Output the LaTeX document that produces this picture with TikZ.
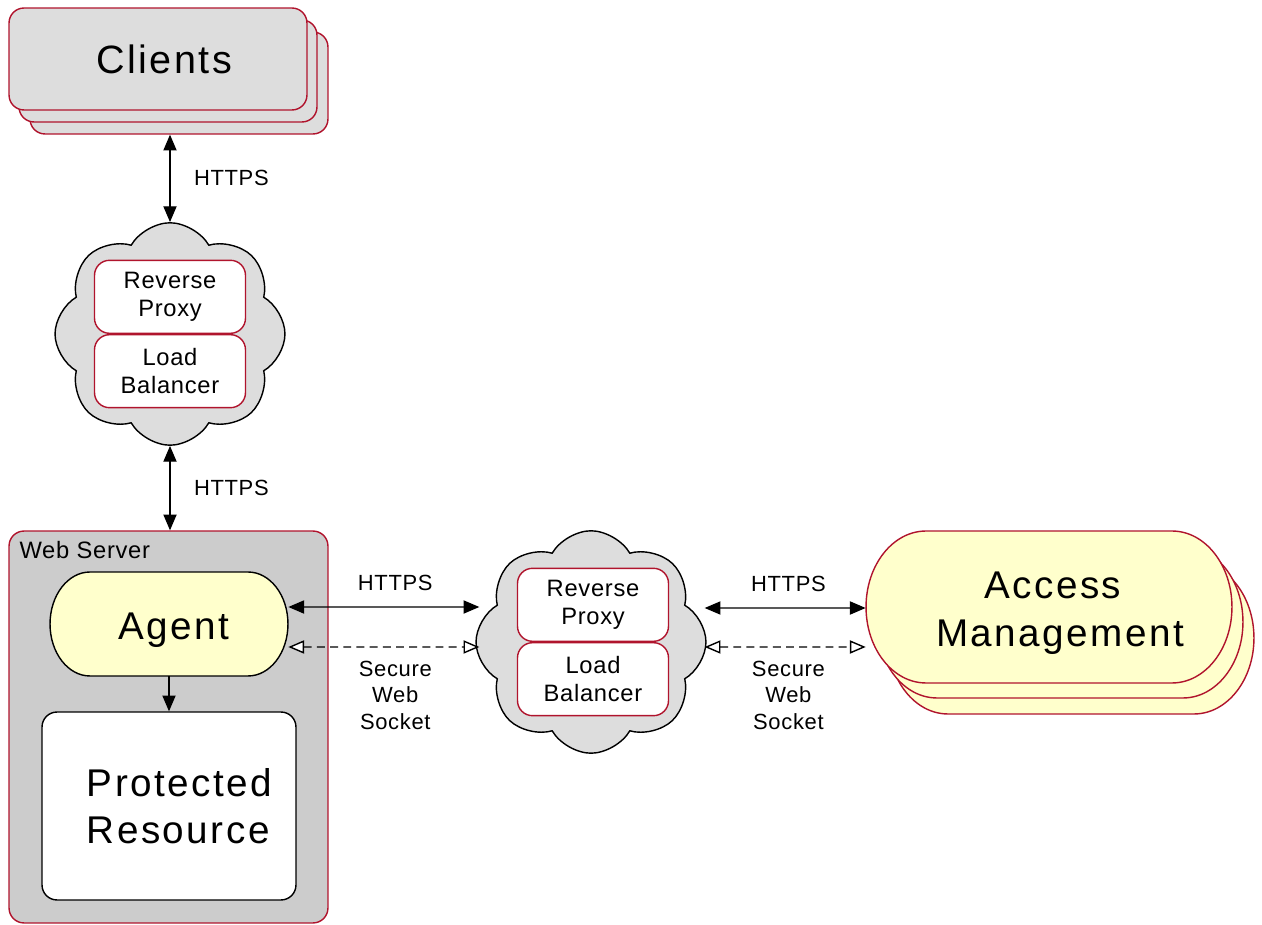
\documentclass[tikz,border=0pt]{standalone}
\usepackage{fontspec}
\setmainfont{Liberation Sans}[LetterSpace=3]
\newfontfamily\bigfont{Liberation Sans}[LetterSpace=6.5]
\usetikzlibrary{shapes, arrows.meta, positioning}
\definecolor{mred}{RGB}{176,20,45}
\definecolor{boxgray}{RGB}{221,221,221}
\definecolor{servergray}{RGB}{204,204,204}
\definecolor{pillyellow}{RGB}{255,255,204}

\tikzset{
    agentshape/.pic={
        \path[pic actions] (-1.58cm,1.04cm) -- (1.58cm,1.04cm)
            arc[start angle=90, end angle=-90, x radius=0.8cm, y radius=1.04cm]
            -- (-1.58cm,-1.04cm)
            arc[start angle=270, end angle=90, x radius=0.8cm, y radius=1.04cm] -- cycle;
    },
    amshape/.pic={
        \path[pic actions] (-2.46cm,1.52cm) -- (2.46cm,1.52cm)
            arc[start angle=90, end angle=-90, x radius=1.2cm, y radius=1.52cm]
            -- (-2.46cm,-1.52cm)
            arc[start angle=270, end angle=90, x radius=1.2cm, y radius=1.52cm] -- cycle;
    }
}

\begin{document}
\begin{tikzpicture}[x=0.02cm, y=-0.02cm,
    big/.style={font=\bigfont\fontsize{22}{27}\selectfont},
    box/.style={draw=mred, line width=0.8pt, rounded corners=0.3cm, align=center},
    stack/.style={box, fill=boxgray, minimum width=5.96cm, minimum height=2.04cm},
    inner/.style={box, fill=white, minimum width=3.02cm, minimum height=1.46cm,
        font=\fontsize{13.5}{16}\selectfont},
    cloudnode/.style={cloud, cloud puffs=8, cloud puff arc=120, aspect=1, draw,
        line width=0.8pt, fill=boxgray, minimum width=4.6cm, minimum height=4.45cm},
    pillline/.style={line width=0.8pt, fill=pillyellow},
    link/.style={line width=0.8pt, {Triangle[length=9pt, width=7.5pt]}-{Triangle[length=9pt, width=7.5pt]}},
    wslink/.style={line width=0.8pt, dash pattern=on 4.5pt off 3pt,
        {Triangle[open, fill=white, length=9pt, width=7.5pt]}-{Triangle[open, fill=white, length=9pt, width=7.5pt]}},
    edge label/.style={font=\fontsize{12.5}{15}\selectfont, align=center}]

\useasboundingbox (0,0) rectangle (1262,925);

% Clients stack
\node[stack] (clients3) at (179,83) {};
\node[stack] (clients2) at (168,71) {};
\node[stack, font=\bigfont\fontsize{22.5}{27}\selectfont] (clients) at (158,59) {\hspace*{0.25cm}Clients};

% Upper cloud
\node[cloudnode] (cloud1) at (170,334) {};
\node[inner, above=0pt of cloud1.center] (proxy1) {Reverse\\Proxy};
\node[inner, below=0pt of proxy1] (balancer1) {Load\\Balancer};

% Web server
\node[box, fill=servergray, minimum width=6.38cm, minimum height=7.84cm] (server) at (168.5,727) {};
\node[edge label, font=\fontsize{13.5}{16}\selectfont, below right=0.1cm and 0.1cm of server.north west, anchor=north west] (serverlabel) {Web Server};
\pic[draw, pillline] at (169,624) {agentshape};
\node[big, minimum width=4.76cm, minimum height=2.08cm] (agent) at (169,630) {\hspace*{0.2cm}Agent};
\node[draw, fill=white, line width=0.8pt, rounded corners=0.3cm, align=left, big,
    minimum width=5.08cm, minimum height=3.76cm] (resource) at (169,806)
    {\hspace*{0.42cm}Protected\\\hspace*{0.42cm}Resource};

% Lower cloud
\node[cloudnode] (cloud2) at (591,642) {};
\node[inner, above=0pt of cloud2.center, xshift=0.04cm] (proxy2) {Reverse\\Proxy};
\node[inner, below=0pt of proxy2] (balancer2) {Load\\Balancer};

% Access Management stack
\pic[draw=mred, pillline] at (1071,638) {amshape};
\pic[draw=mred, pillline] at (1060,622) {amshape};
\pic[draw=mred, pillline] at (1049,607) {amshape};
\node[big, minimum width=7.32cm, minimum height=3.04cm, align=center] (am) at (1049,613)
    {\hspace*{0.15cm}Access\\\hspace*{0.45cm}Management};

% Connections
\draw[link] (cloud1.north |- clients3.south) -- (cloud1.north)
    node[edge label, midway, right=0.35cm] {HTTPS};
\draw[link] (cloud1.south) -- (cloud1.south |- server.north)
    node[edge label, midway, right=0.35cm] {HTTPS};
\draw[line width=0.8pt, -{Triangle[length=9pt, width=7.5pt]}] ([yshift=0.12cm]agent.south) -- (resource.north);

\draw[link] ([yshift=0.46cm]agent.east) -- ([xshift=0.08cm, yshift=0.7cm]cloud2.west)
    node[edge label, pos=0.56, above=0.2cm] {HTTPS};
\draw[wslink] ([yshift=-0.34cm]agent.east) -- ([xshift=0.08cm, yshift=-0.1cm]cloud2.west)
    node[edge label, pos=0.56, below=0.15cm] {Secure\\Web\\Socket};
\draw[link] ([xshift=-0.04cm, yshift=0.68cm]cloud2.east) -- ([yshift=0.1cm]am.west)
    node[edge label, pos=0.52, above=0.2cm] {HTTPS};
\draw[wslink] ([xshift=-0.04cm, yshift=-0.1cm]cloud2.east) -- ([yshift=-0.68cm]am.west)
    node[edge label, pos=0.52, below=0.15cm] {Secure\\Web\\Socket};

\end{tikzpicture}
\end{document}
